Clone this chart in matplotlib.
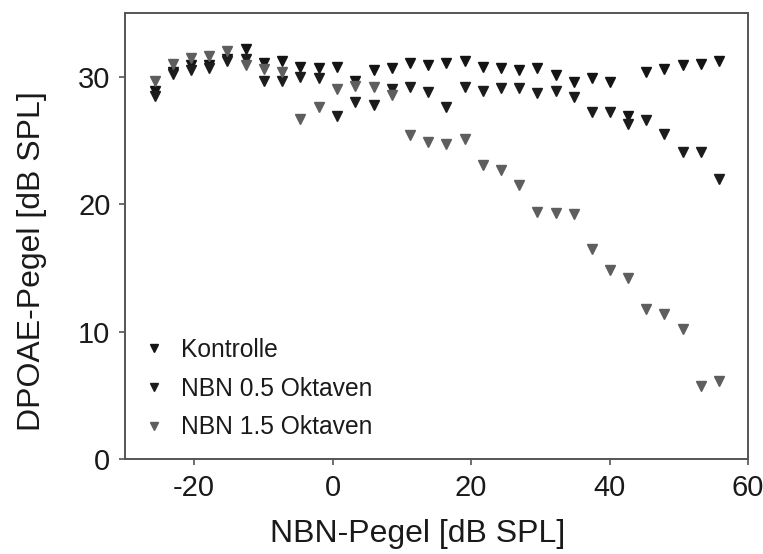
import matplotlib
matplotlib.use("Agg")
import matplotlib.pyplot as plt

# x positions (NBN-Pegel, dB SPL)
nbn_level = [-25.7, -23.0, -20.4, -17.8, -15.2, -12.5, -9.9, -7.3, -4.7, -2.0,
             0.6, 3.2, 5.9, 8.5, 11.2, 13.8, 16.4, 19.1, 21.7, 24.3,
             26.9, 29.5, 32.2, 34.8, 37.4, 40.1, 42.7, 45.3, 47.9, 50.6,
             53.2, 55.8]

kontrolle = [28.9, 30.4, 30.9, 30.9, 31.4, 32.2, 31.1, 31.2, 30.8, 30.7,
             30.8, 29.7, 30.5, 30.7, 31.1, 30.9, 31.1, 31.2, 30.8, 30.7,
             30.5, 30.7, 30.1, 29.6, 29.9, 29.6, 26.9, 30.4, 30.6, 30.9,
             31.0, 31.2]

nbn_05 = [28.5, 30.2, 30.5, 30.7, 31.2, 31.4, 29.7, 29.7, 30.0, 29.9,
          26.9, 28.0, 27.8, 29.0, 29.2, 28.8, 27.6, 29.2, 28.9, 29.1,
          29.1, 28.7, 28.9, 28.4, 27.2, 27.2, 26.3, 26.6, 25.5, 24.1,
          24.1, 22.0]

nbn_15 = [29.7, 31.0, 31.5, 31.6, 32.0, 30.9, 30.6, 30.4, 26.7, 27.6,
          29.0, 29.3, 29.2, 28.6, 25.4, 24.9, 24.7, 25.1, 23.1, 22.7,
          21.5, 19.4, 19.3, 19.2, 16.5, 14.8, 14.2, 11.8, 11.4, 10.2,
          5.7, 6.1]

series_labels = ["Kontrolle", "NBN 0.5 Oktaven", "NBN 1.5 Oktaven"]
x_ticks = [-20, 0, 20, 40, 60]
y_ticks = [0, 10, 20, 30]

plt.rcParams['font.family'] = ['Liberation Sans', 'DejaVu Sans']
plt.rcParams['axes.unicode_minus'] = False

fig = plt.figure(figsize=(7.63, 5.54), dpi=100)
ax = fig.add_axes([125/763, 95/554, 623/763, 446/554])

ms = 7.5
ax.plot(nbn_level, kontrolle, linestyle='none', marker='v', ms=ms,
        color='#141414', mec='#141414', label=series_labels[0])
ax.plot(nbn_level, nbn_05, linestyle='none', marker='v', ms=ms,
        color='#1c1c1c', mec='#1c1c1c', label=series_labels[1])
ax.plot(nbn_level, nbn_15, linestyle='none', marker='v', ms=ms,
        color='#5e5e5e', mec='#5e5e5e', label=series_labels[2])

ax.set_xlim(-30, 60)
ax.set_ylim(0, 35)
ax.set_xticks(x_ticks)
ax.set_yticks(y_ticks)

for s in ax.spines.values():
    s.set_color('#555555')
    s.set_linewidth(1.4)
ax.tick_params(axis='both', direction='out', length=4.5, width=1.2,
               color='#555555', labelsize=21, labelcolor='#1a1a1a', pad=6)

ax.set_xlabel('NBN-Pegel [dB SPL]', fontsize=23, color='#1a1a1a')
ax.set_ylabel('DPOAE-Pegel [dB SPL]', fontsize=23, color='#1a1a1a')
ax.xaxis.set_label_coords(0.469, -0.1345)
ax.yaxis.set_label_coords(-0.125, 0.444)

leg = ax.legend(loc='lower left', bbox_to_anchor=(0.001, 0.022), frameon=False,
                fontsize=17.7, markerscale=0.85, handletextpad=0.35,
                handlelength=1.5, labelspacing=0.6, borderaxespad=0.0)
for t in leg.get_texts():
    t.set_color('#1a1a1a')

fig.savefig('out.png', dpi=100)
